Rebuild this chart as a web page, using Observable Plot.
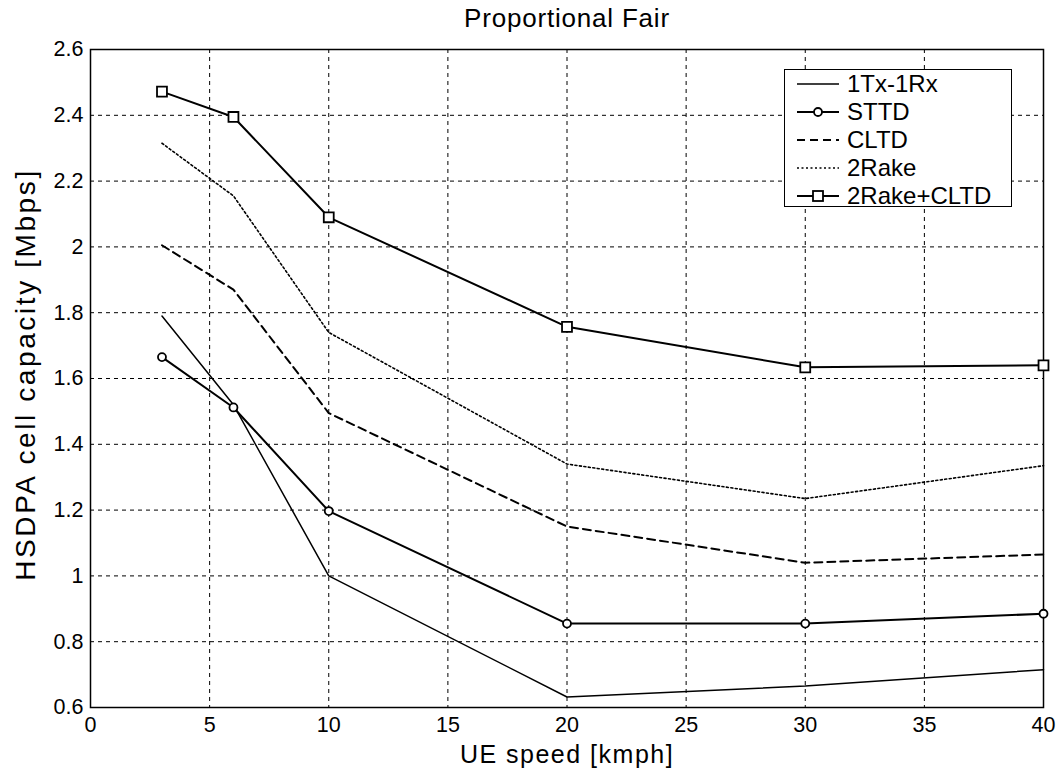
<!DOCTYPE html>
<html>
<head>
<meta charset="utf-8">
<script src="https://cdn.jsdelivr.net/npm/d3@7"></script>
<script src="https://cdn.jsdelivr.net/npm/@observablehq/plot@0.6"></script>
<style>
  html, body { margin: 0; padding: 0; background: #fff; }
  #wrap { position: relative; width: 1064px; height: 776px; font-family: "Liberation Sans", Arial, sans-serif; }
  #legend { position: absolute; left: 784px; top: 69px; width: 228px; height: 138px; border: 1.5px solid #000; background: #fff; box-sizing: border-box; }
  .row { position: absolute; left: 0; height: 28px; display: flex; align-items: center; }
  .row svg { margin-left: 12px; }
  .row span { margin-left: 8px; font-size: 24px; color: #000; }
</style>
</head>
<body>
<div id="wrap"><div id="legend"></div></div>
<script>
const speeds = [3, 6, 10, 20, 30, 40];
const seriesNames = ["1Tx-1Rx", "STTD", "CLTD", "2Rake", "2Rake+CLTD"];
const tx1rx1 = [1.79, 1.52, 1.00, 0.632, 0.665, 0.715];
const sttd = [1.665, 1.512, 1.197, 0.855, 0.855, 0.885];
const cltd = [2.005, 1.87, 1.495, 1.15, 1.04, 1.065];
const rake2 = [2.315, 2.155, 1.74, 1.34, 1.235, 1.335];
const rake2cltd = [2.472, 2.395, 2.09, 1.757, 1.634, 1.64];
const xTicks = [0, 5, 10, 15, 20, 25, 30, 35, 40];
const yTicks = [0.6, 0.8, 1.0, 1.2, 1.4, 1.6, 1.8, 2.0, 2.2, 2.4, 2.6];
const titleText = "Proportional Fair";
const xLabel = "UE speed [kmph]";
const yLabel = "HSDPA cell capacity [Mbps]";

const values = [tx1rx1, sttd, cltd, rake2, rake2cltd];
const styles = [
  {strokeWidth: 1.5, dash: null, marker: null},
  {strokeWidth: 2, dash: null, marker: "circle"},
  {strokeWidth: 2, dash: "8,5", marker: null},
  {strokeWidth: 1.6, dash: "2,2.5", marker: null},
  {strokeWidth: 2, dash: null, marker: "square"}
];
const data = seriesNames.map((name, i) => speeds.map((s, j) => ({series: name, x: s, y: values[i][j]})));

const marks = [
  Plot.gridX(xTicks, {stroke: "#000", strokeOpacity: 1, strokeWidth: 1, strokeDasharray: "4,4"}),
  Plot.gridY(yTicks, {stroke: "#000", strokeOpacity: 1, strokeWidth: 1, strokeDasharray: "4,4"}),
  Plot.frame({stroke: "#000", strokeWidth: 1.5}),
  Plot.axisX(xTicks, {tickSize: 0, tickPadding: 9, fontSize: 21.5, label: null, tickFormat: d3.format("~g")}),
  Plot.axisY(yTicks, {tickSize: 0, tickPadding: 7, fontSize: 21.5, label: null, tickFormat: d3.format("~g")})
];
data.forEach((d, i) => {
  const st = styles[i];
  marks.push(Plot.line(d, {x: "x", y: "y", stroke: "#000", strokeWidth: st.strokeWidth, strokeDasharray: st.dash || undefined}));
  if (st.marker === "circle") marks.push(Plot.dot(d, {x: "x", y: "y", symbol: "circle", r: 4, stroke: "#000", strokeWidth: 1.8, fill: "#fff"}));
  if (st.marker === "square") marks.push(Plot.dot(d, {x: "x", y: "y", symbol: "square", r: 5.6, stroke: "#000", strokeWidth: 1.8, fill: "#fff"}));
});
marks.push(Plot.text([titleText], {frameAnchor: "top", dy: -31, fontSize: 26, lineAnchor: "middle"}));
marks.push(Plot.text([xLabel], {frameAnchor: "bottom", dy: 47, fontSize: 25, lineAnchor: "middle"}));
marks.push(Plot.text([yLabel], {frameAnchor: "left", dx: -64, dy: -4, rotate: -90, fontSize: 28, lineAnchor: "middle", textAnchor: "middle"}));

const chart = Plot.plot({
  width: 1064,
  height: 776,
  marginLeft: 90,
  marginRight: 21,
  marginTop: 49,
  marginBottom: 69,
  style: {fontFamily: "'Liberation Sans', Arial, sans-serif", background: "#fff", color: "#000", overflow: "visible"},
  x: {domain: [0, 40]},
  y: {domain: [0.6, 2.6]},
  marks
});
const spacing = {[titleText]: "0.8px", [xLabel]: "1.5px", [yLabel]: "2.6px"};
chart.querySelectorAll("text").forEach(t => {
  const s = spacing[t.textContent];
  if (s) t.style.letterSpacing = s;
});
const wrap = document.getElementById("wrap");
wrap.insertBefore(chart, wrap.firstChild);

// legend
const legend = document.getElementById("legend");
seriesNames.forEach((name, i) => {
  const st = styles[i];
  const row = document.createElement("div");
  row.className = "row";
  row.style.top = (i * 28) + "px";
  let sym = "";
  if (st.marker === "circle") sym = `<circle cx="21" cy="10" r="4" fill="#fff" stroke="#000" stroke-width="1.8"/>`;
  if (st.marker === "square") sym = `<rect x="16" y="5" width="10" height="10" fill="#fff" stroke="#000" stroke-width="1.8"/>`;
  row.innerHTML = `<svg width="42" height="20"><line x1="0" y1="10" x2="42" y2="10" stroke="#000" stroke-width="${st.strokeWidth}" ${st.dash ? `stroke-dasharray="${st.dash}"` : ""}/>${sym}</svg><span>${name}</span>`;
  legend.appendChild(row);
});
</script>
</body>
</html>
